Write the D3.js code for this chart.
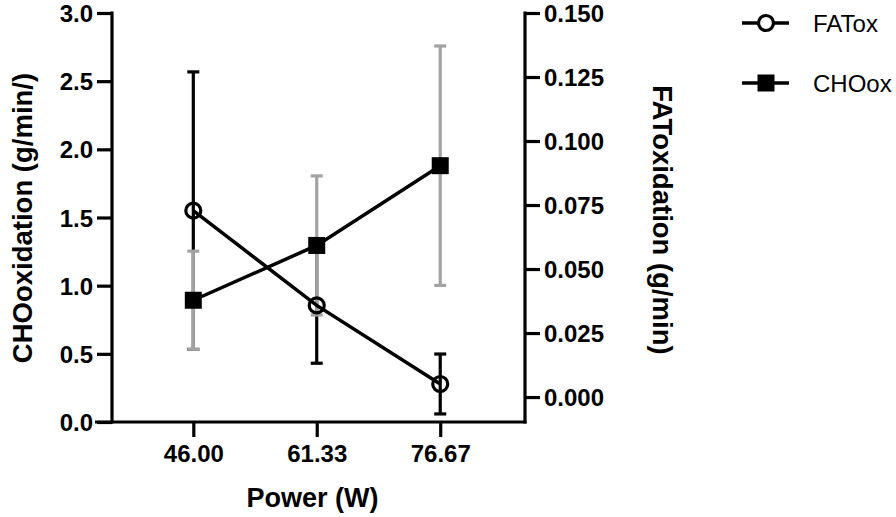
<!DOCTYPE html>
<html>
<head>
<meta charset="utf-8">
<script src="https://cdn.jsdelivr.net/npm/d3@7"></script>
<style>
  html, body { margin: 0; padding: 0; background: #fff; }
  svg { display: block; }
  text { font-family: "Liberation Sans", Arial, Helvetica, sans-serif; }
</style>
</head>
<body>
<svg id="chart" width="896" height="517"></svg>
<script>
// ---- data ----
const powers = [46.00, 61.33, 76.67];
const xTickLabels = ["46.00", "61.33", "76.67"];
const fatMean = [0.0728, 0.0358, 0.0051];
const fatErr  = [0.0542, 0.0226, 0.0117];
const choMean = [0.893, 1.295, 1.880];
const choErr  = [0.36, 0.51, 0.878];
const leftTicks = [0, 0.5, 1.0, 1.5, 2.0, 2.5, 3.0];
const rightTicks = [0, 0.025, 0.05, 0.075, 0.1, 0.125, 0.15];
const seriesNames = ["FATox", "CHOox"];

// ---- layout ----
const svg = d3.select("#chart");
const L = 112, R = 525, T = 13, B = 422;
const x = d3.scaleLinear().domain([35.9, 87.2]).range([L, R]);
const yL = d3.scaleLinear().domain([0, 3]).range([B, T]);
const yR = d3.scaleLinear().domain([-0.00975, 0.15]).range([B, T]);
const grey = "#a3a3a3";
const SW = 3.2;

function styleAxis(g, size) {
  g.select(".domain").attr("stroke", "#000").attr("stroke-width", SW);
  g.selectAll(".tick line").attr("stroke", "#000").attr("stroke-width", SW);
  g.selectAll(".tick text").attr("fill", "#000").attr("font-size", size)
    .attr("font-weight", "bold");
}

// left axis
const gL = svg.append("g").attr("transform", `translate(${L},0)`)
  .call(d3.axisLeft(yL).tickValues(leftTicks).tickFormat(d3.format(".1f"))
    .tickSize(15).tickSizeOuter(0).tickPadding(4));
styleAxis(gL, 24);
gL.selectAll(".tick text").attr("dy", "0.36em");
gL.select(".domain").attr("d", `M0,${B + 1.5}V${T - 1.5}`);

// right axis
const gR = svg.append("g").attr("transform", `translate(${R},0)`)
  .call(d3.axisRight(yR).tickValues(rightTicks).tickFormat(d3.format(".3f"))
    .tickSize(15).tickSizeOuter(0).tickPadding(4));
styleAxis(gR, 24);
gR.selectAll(".tick text").attr("dy", "0.36em");
gR.select(".domain").attr("d", `M0,${B + 1.5}V${T - 1.5}`);

// bottom axis
const gB = svg.append("g").attr("transform", `translate(0,${B})`)
  .call(d3.axisBottom(x).tickValues(powers).tickFormat((d, i) => xTickLabels[i])
    .tickSize(15).tickSizeOuter(0).tickPadding(8));
styleAxis(gB, 24);
gB.select(".domain").attr("d", `M${L - 17},0H${R + 1.5}`);

// axis titles
svg.append("text").attr("x", (L + R) / 2 - 6).attr("y", 507)
  .attr("text-anchor", "middle").attr("font-size", 27).attr("font-weight", "bold")
  .text("Power (W)");
svg.append("text").attr("transform", "translate(32,218) rotate(-90)")
  .attr("text-anchor", "middle").attr("font-size", 27.5).attr("font-weight", "bold")
  .text("CHOoxidation (g/min/)");
svg.append("text").attr("transform", "translate(653,220) rotate(90)")
  .attr("text-anchor", "middle").attr("font-size", 27.5).attr("font-weight", "bold")
  .text("FAToxidation (g/min)");

const cap = 6;
// FAT error bars (black)
const fatEB = svg.append("g").attr("stroke", "#000").attr("stroke-width", SW);
powers.forEach((p, i) => {
  const cx = x(p), y1 = yR(fatMean[i] + fatErr[i]), y2 = yR(fatMean[i] - fatErr[i]);
  fatEB.append("line").attr("x1", cx).attr("x2", cx).attr("y1", y1).attr("y2", y2);
  fatEB.append("line").attr("x1", cx - cap).attr("x2", cx + cap).attr("y1", y1).attr("y2", y1);
  fatEB.append("line").attr("x1", cx - cap).attr("x2", cx + cap).attr("y1", y2).attr("y2", y2);
});
// CHO error bars (grey)
const choEB = svg.append("g").attr("stroke", grey).attr("stroke-width", SW);
powers.forEach((p, i) => {
  const cx = x(p), y1 = yL(choMean[i] + choErr[i]), y2 = yL(choMean[i] - choErr[i]);
  choEB.append("line").attr("x1", cx).attr("x2", cx).attr("y1", y1).attr("y2", y2);
  choEB.append("line").attr("x1", cx - cap).attr("x2", cx + cap).attr("y1", y1).attr("y2", y1);
  choEB.append("line").attr("x1", cx - cap).attr("x2", cx + cap).attr("y1", y2).attr("y2", y2);
});

// lines
const fatLine = d3.line().x((d, i) => x(powers[i])).y(d => yR(d));
const choLine = d3.line().x((d, i) => x(powers[i])).y(d => yL(d));
svg.append("path").datum(fatMean).attr("d", fatLine).attr("fill", "none")
  .attr("stroke", "#000").attr("stroke-width", 3.5);
svg.append("path").datum(choMean).attr("d", choLine).attr("fill", "none")
  .attr("stroke", "#000").attr("stroke-width", 3.5);

// markers
svg.append("g").selectAll("circle").data(fatMean).join("circle")
  .attr("cx", (d, i) => x(powers[i])).attr("cy", d => yR(d)).attr("r", 7.5)
  .attr("fill", "none").attr("stroke", "#000").attr("stroke-width", 3.2);
svg.append("g").selectAll("rect").data(choMean).join("rect")
  .attr("x", (d, i) => x(powers[i]) - 8.5).attr("y", d => yL(d) - 8.5)
  .attr("width", 17).attr("height", 17).attr("fill", "#000");

// legend
const leg = svg.append("g");
seriesNames.forEach((name, i) => {
  const ly = 23 + i * 60;
  leg.append("line").attr("x1", 742).attr("x2", 789).attr("y1", ly).attr("y2", ly)
    .attr("stroke", "#000").attr("stroke-width", 3.5);
  if (i === 0) {
    leg.append("circle").attr("cx", 766).attr("cy", ly).attr("r", 7.5)
      .attr("fill", "#fff").attr("stroke", "#000").attr("stroke-width", 3.2);
  } else {
    leg.append("rect").attr("x", 757.5).attr("y", ly - 8.5).attr("width", 17).attr("height", 17)
      .attr("fill", "#000");
  }
  leg.append("text").attr("x", 813).attr("y", ly).attr("dy", "0.36em")
    .attr("font-size", 24).attr("fill", "#000").text(name);
});
</script>
</body>
</html>
